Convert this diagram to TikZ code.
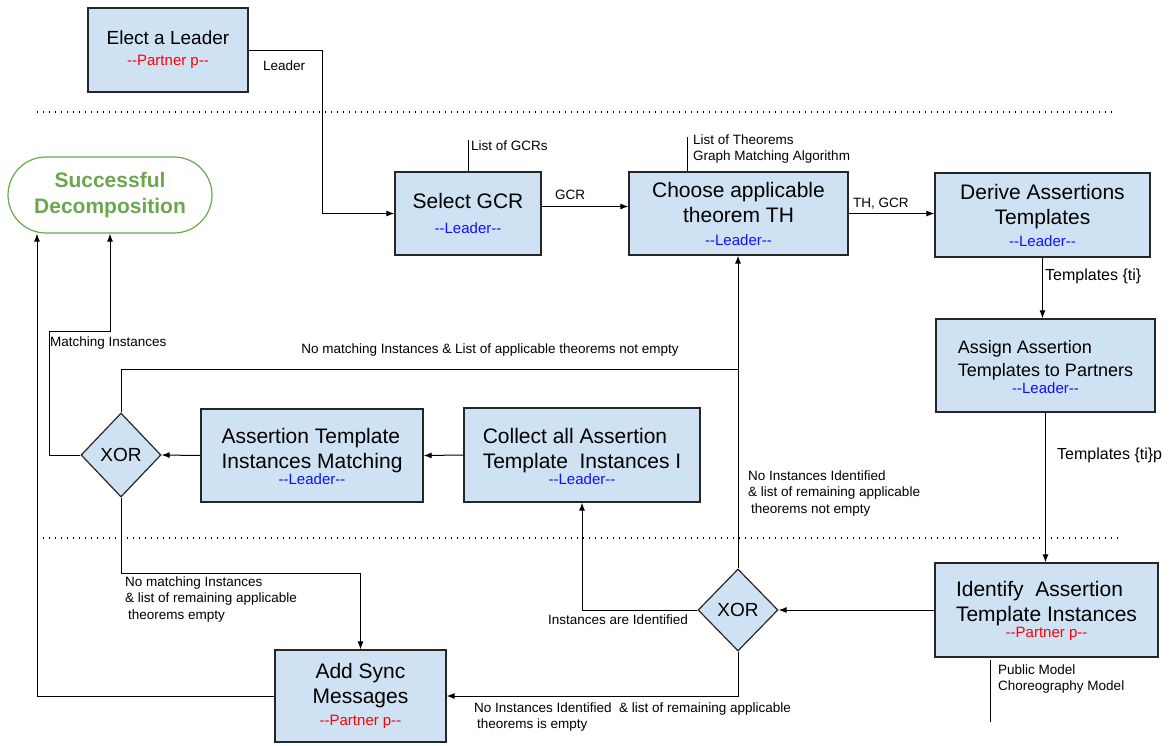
\documentclass[tikz,border=0pt]{standalone}
\usepackage{fontspec}
\setmainfont{Liberation Sans}[Ligatures=TeXOff]
\usetikzlibrary{arrows.meta,shapes.geometric}

\definecolor{boxblue}{HTML}{CFE2F3}
\definecolor{leaderblue}{HTML}{1010FF}
\definecolor{partnerred}{HTML}{FF0000}
\definecolor{okgreen}{HTML}{6AA84F}

\newcommand{\leaderrole}{{\color{leaderblue}\fontsize{15}{18}\selectfont --Leader--}}
\newcommand{\partnerrole}{{\color{partnerred}\fontsize{15}{18}\selectfont --Partner p--}}
\newcommand{\lefttwo}[2]{\begin{tabular}{@{}l@{}}#1\\#2\end{tabular}}

\tikzset{
  task/.style={draw=black!85, fill=boxblue, line width=1.2pt, align=center,
    inner sep=0pt, font=\fontsize{21}{25}\selectfont},
  gate/.style={diamond, draw=black!85, fill=boxblue, line width=1.2pt,
    inner sep=0pt, font=\fontsize{19}{23}\selectfont},
  flow/.style={-{Latex[length=8pt,width=6pt]}, line width=1pt},
  wire/.style={line width=1pt},
  note/.style={anchor=west, align=left, inner sep=0pt, font=\fontsize{13.5}{16.5}\selectfont},
  lane/.style={line width=1.3pt, dash pattern=on 1.3pt off 4.7pt},
}

\begin{document}
\begin{tikzpicture}[x=1pt,y=-1pt]

    \useasboundingbox (0,0) rectangle (1173,745);

    % lanes
    \draw[lane] (37,112) -- (1115,112);
    \draw[lane] (37,538) -- (1118,538);

    % tasks
    \node[task, minimum width=160pt, minimum height=84pt, font=\fontsize{19}{23}\selectfont]
        (elect) at (168,50) {Elect a Leader\\[-2pt]\partnerrole};
    \node[task, minimum width=146pt, minimum height=83pt]
        (select) at (468,213.5) {Select GCR\\[0pt]\leaderrole};
    \node[task, minimum width=219pt, minimum height=83pt]
        (choose) at (738.5,213.5) {Choose applicable\\theorem TH\\[-2pt]\leaderrole};
    \node[task, minimum width=215pt, minimum height=84pt]
        (derive) at (1042.5,215) {Derive Assertions\\Templates\\[-3pt]\leaderrole};
    \node[task, minimum width=219pt, minimum height=93pt, font=\fontsize{18}{23}\selectfont]
        (assign) at (1045.5,365.5) {\lefttwo{Assign Assertion}{Templates to Partners}\\[-2pt]\leaderrole};
    \node[task, minimum width=223pt, minimum height=94pt]
        (identify) at (1046.5,610) {\lefttwo{Identify\ \ Assertion}{Template Instances}\\[-3pt]\partnerrole};
    \node[task, minimum width=236pt, minimum height=94pt]
        (collect) at (582,455) {\lefttwo{Collect all Assertion}{Template\ \ Instances I}\\[-3pt]\leaderrole};
    \node[task, minimum width=222pt, minimum height=93pt]
        (matching) at (312,455.5) {\lefttwo{Assertion Template}{Instances Matching}\\[-3pt]\leaderrole};
    \node[task, minimum width=171pt, minimum height=92pt]
        (addsync) at (360.5,696) {Add Sync\\Messages\\[-3pt]\partnerrole};
    \node[draw=okgreen, line width=1.2pt, rounded corners=38pt, minimum width=204pt,
        minimum height=76pt, align=center, text=okgreen, inner sep=0pt,
        font=\fontsize{21}{26}\selectfont\bfseries]
        (success) at (110,195) {Successful\\Decomposition};

    % gateways
    \node[gate, minimum width=80pt, minimum height=84pt] (xorL) at (121,455) {XOR};
    \node[gate, minimum width=80pt, minimum height=82pt] (xorR) at (738,610) {XOR};

    % inputs
    \coordinate (gcrs) at (468,140);
    \coordinate (theorems) at (687,137);
    \coordinate (modeltop) at (990,660);
    \coordinate (modelend) at (990,722);
    \draw[wire] (select.north) -- (gcrs);
    \draw[wire] (theorems) -- (theorems |- choose.north);
    \draw[wire] (modeltop) -- (modelend);

    \node[note] (gcrsl) at (471,146) {List of GCRs};
    \node[note, anchor=north west] (theoremsl) at (693,134.5) {List of Theorems\\Graph Matching Algorithm};
    \node[note, anchor=north west] (modell) at (998,664.5) {Public Model\\Choreography Model};

    % main flow
    \draw[flow] (elect.east) -- ++(74,0) |- (select.west);
    \draw[flow] ([yshift=7pt]select.east) -- ([yshift=7pt]choose.west);
    \draw[flow] (choose.east) -- (choose.east -| derive.west);
    \draw[flow] (derive.south) -- (derive.south |- assign.north);
    \draw[flow] (assign.south) -- (assign.south |- identify.north);
    \draw[flow] (identify.west) -- (xorR.east);
    \draw[flow] (xorR.west) -| (collect.south);
    \draw[flow] (xorR.north) -- (xorR.north |- choose.south);
    \draw[flow] (xorR.south) |- (addsync.east);
    \draw[flow] (collect.west) -- (matching.east);
    \draw[flow] (matching.west) -- (xorL.east);

    \coordinate (join) at (738,369);
    \draw[wire] (xorL.north) |- (join);
    \draw[flow] (xorL.west) -| (49,331) -| (success.south);
    \draw[flow] (xorL.south) -- (121,573) -| (addsync.north);
    \draw[flow] (addsync.west) -| ([xshift=-73pt]success.south);

    % labels
    \node[note] (leaderl) at (263,66) {Leader};
    \node[note, anchor=center] (gcrl) at (570,195) {GCR};
    \node[note] (thgcrl) at (853,204) {TH, GCR};
    \node[note, font=\fontsize{16}{19}\selectfont] (tpl) at (1045,276) {Templates \{ti\}};
    \node[note, font=\fontsize{16}{19}\selectfont] (tppl) at (1057,455) {Templates \{ti\}p};
    \node[note, anchor=center] (foundl) at (618,620) {Instances are Identified};
    \node[note, anchor=north west] (notfoundl) at (748,470.5)
        {No Instances Identified\\\& list of remaining applicable\\\hspace{3pt}theorems not empty};
    \node[note, anchor=north west] (emptyl) at (474,702.5)
        {No Instances Identified\ \ \& list of remaining applicable\\\hspace{3pt}theorems is empty};
    \node[note, anchor=center] (retryl) at (490,350)
        {No matching Instances \& List of applicable theorems not empty};
    \node[note] (matchl) at (50,343) {Matching Instances};
    \node[note, anchor=north west] (nomatchl) at (125,576.5)
        {No matching Instances\\\& list of remaining applicable\\\hspace{3pt}theorems empty};

\end{tikzpicture}
\end{document}
